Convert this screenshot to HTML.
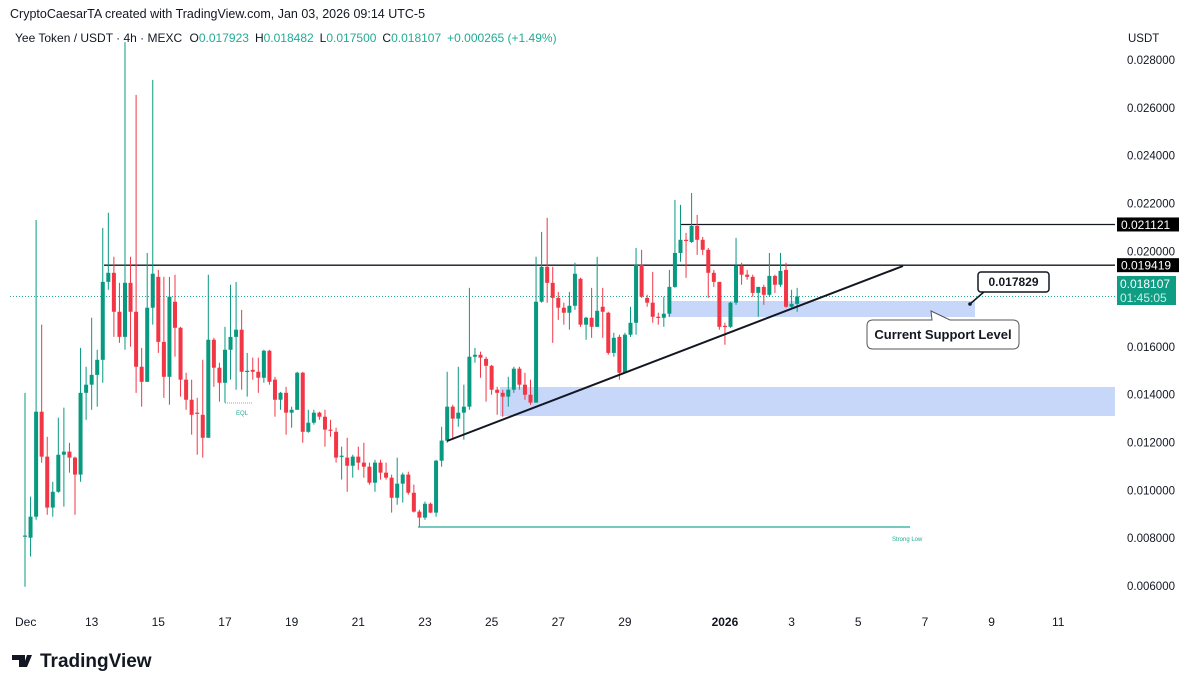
<!DOCTYPE html>
<html><head><meta charset="utf-8"><style>
html,body{margin:0;padding:0;background:#fff;}
body{width:1200px;height:687px;overflow:hidden;font-family:"Liberation Sans",sans-serif;}
svg text{font-family:"Liberation Sans",sans-serif;}
</style></head><body>
<svg id="chart" width="1200" height="687" viewBox="0 0 1200 687" xmlns="http://www.w3.org/2000/svg">
<text x="10" y="18" font-size="12.5" fill="#131722">CryptoCaesarTA created with TradingView.com, Jan 03, 2026 09:14 UTC-5</text>
<text x="15" y="42" font-size="12" fill="#131722">Yee Token / USDT · 4h · MEXC  <tspan dx="4">O</tspan><tspan fill="#22ab94">0.017923</tspan><tspan dx="6">H</tspan><tspan fill="#22ab94">0.018482</tspan><tspan dx="6">L</tspan><tspan fill="#22ab94">0.017500</tspan><tspan dx="6">C</tspan><tspan fill="#22ab94">0.018107</tspan><tspan dx="6" fill="#22ab94">+0.000265 (+1.49%)</tspan></text>
<text x="1128" y="42" font-size="11.5" fill="#131722">USDT</text>
<g id="yticks"></g>
<g id="xticks"></g>
<g id="zones"></g>
<g id="levels"></g>
<g id="candles"></g>
<g id="annot"></g>
<g>
<path d="M12 655h13v12h-6v-7h-7z M27 655h5l-5 12h-4z" fill="#131722"/>
<circle cx="29" cy="657" r="0" fill="#131722"/>
<text x="40" y="667" font-size="19" font-weight="bold" fill="#131722">TradingView</text>
</g>
</svg>
<script>
// values in milli-USDT (0.001 USDT)
const opens=[8.06,8.02,8.90,13.29,11.41,9.28,9.94,11.49,11.62,11.37,10.66,14.08,14.42,14.83,15.46,18.72,19.10,17.47,16.42,18.68,17.47,15.17,14.54,17.64,18.93,16.21,14.75,17.89,16.80,14.63,13.79,13.25,13.16,12.20,16.30,15.13,14.50,15.88,16.42,16.72,14.96,15.04,14.96,14.71,15.84,14.63,13.79,14.08,13.25,13.37,14.92,12.45,12.83,13.25,13.08,12.54,12.45,11.41,11.37,11.03,11.41,11.16,10.99,10.32,11.16,10.74,10.53,9.69,10.28,10.66,9.90,9.11,8.86,9.44,9.07,11.24,12.08,13.50,13.00,13.25,13.50,15.59,15.67,15.50,15.21,14.21,14.08,13.92,14.21,15.09,14.42,14.00,13.67,17.89,19.35,18.68,18.05,17.64,17.43,17.72,18.85,16.93,17.22,16.84,17.68,17.43,15.75,16.42,14.92,16.51,17.01,19.43,18.05,17.85,17.26,17.22,17.39,18.51,19.93,20.48,20.39,21.06,20.48,20.06,19.10,18.72,16.88,16.84,17.85,19.39,19.02,18.93,18.26,18.51,18.18,18.97,18.60,19.22,17.68,17.80];
const highs=[14.08,9.74,21.31,16.93,12.24,10.36,13.04,13.46,11.99,11.41,15.96,15.17,17.22,15.88,20.98,21.61,19.77,18.68,28.75,19.77,26.54,15.96,19.93,27.17,19.22,18.93,18.93,19.02,16.84,14.92,14.63,13.87,15.46,19.02,16.38,15.34,16.84,18.60,18.72,17.55,15.75,15.55,15.55,15.88,15.88,14.75,14.12,14.33,13.50,14.96,14.96,13.37,13.37,13.29,13.37,12.95,12.62,11.83,12.20,11.49,11.83,11.99,11.16,11.28,11.28,11.16,10.66,11.37,10.74,10.78,10.24,9.19,9.53,9.49,11.28,12.66,14.96,13.58,15.17,14.42,18.47,15.96,15.80,15.59,15.25,14.33,14.21,14.75,15.17,15.17,14.92,14.63,19.77,20.81,21.40,19.35,18.30,17.85,18.30,19.52,18.89,17.26,18.47,19.77,18.47,17.47,16.59,16.51,16.59,17.68,20.14,20.06,18.18,19.14,17.43,18.10,19.22,22.15,21.94,20.77,22.44,21.52,20.60,20.14,19.22,18.72,17.01,17.89,20.56,19.52,19.22,19.02,18.51,18.60,19.93,19.02,19.93,19.52,18.39,18.47];
const lows=[5.97,7.23,8.77,11.16,8.98,8.90,9.90,9.32,10.74,8.98,10.36,12.95,13.37,13.50,14.50,18.39,16.42,16.17,15.88,16.01,14.08,13.50,14.54,16.93,15.75,13.87,13.58,15.59,13.92,13.37,12.33,11.49,11.37,12.20,14.33,13.71,13.67,14.63,14.21,14.21,13.92,14.63,14.08,14.50,14.42,13.08,13.37,12.33,12.62,13.37,11.99,12.41,12.75,12.95,11.83,12.24,11.16,10.45,9.94,10.53,10.86,10.53,10.24,9.94,10.45,10.45,9.07,9.40,9.49,9.82,9.07,8.48,8.77,9.05,8.90,10.99,11.99,12.12,12.66,12.12,13.37,15.34,14.71,13.71,14.00,13.16,13.08,13.50,14.08,14.21,13.79,13.58,13.67,17.85,17.85,16.17,17.13,16.93,16.72,17.55,16.84,16.30,16.38,16.84,16.38,15.67,15.59,14.63,14.92,16.42,16.51,18.05,17.68,17.01,16.93,16.84,17.26,18.47,19.56,18.89,20.35,19.85,19.85,18.05,18.51,16.72,16.09,16.80,17.76,18.60,18.81,18.10,17.26,17.76,18.10,18.26,18.51,17.64,17.64,17.47];
const closes=[8.11,8.90,13.29,11.41,9.28,9.94,11.49,11.62,11.37,10.66,14.08,14.42,14.83,15.46,18.72,19.10,17.47,16.42,18.68,17.47,15.17,14.54,17.64,19.06,16.21,14.75,18.10,16.80,14.63,13.79,13.16,13.22,12.20,16.30,15.13,14.50,15.88,16.42,16.72,14.96,15.00,14.96,14.71,15.84,14.54,13.79,14.08,13.25,13.37,14.92,12.45,12.83,13.25,13.08,12.54,12.50,11.37,11.45,11.03,11.41,11.16,10.99,10.32,11.16,10.74,10.53,9.69,10.28,10.66,9.90,9.11,8.86,9.44,9.07,11.24,12.08,13.50,13.00,13.25,13.50,15.59,15.67,15.55,15.21,14.21,14.08,13.92,14.21,15.09,14.42,14.00,13.67,17.89,19.35,18.68,18.05,17.64,17.43,17.72,19.06,16.93,17.22,16.84,17.51,17.47,15.75,16.38,14.92,16.51,17.01,19.43,18.10,17.85,17.26,17.22,17.39,18.51,19.93,20.48,20.44,21.06,20.48,20.06,19.10,18.72,16.84,16.84,17.85,19.39,19.02,18.93,18.26,18.51,18.18,18.97,18.60,19.18,17.68,17.80,18.11];
const yTickValues=[0.028,0.026,0.024,0.022,0.020,0.016,0.014,0.012,0.010,0.008,0.006];
const xTickLabels=["Dec","13","15","17","19","21","23","25","27","29","2026","3","5","7","9","11"];
const xTickDays=[11,13,15,17,19,21,23,25,27,29,32,34,36,38,40,42];
const levelValues=[0.021121,0.019419];
const lastPrice=[0.018107];

const NS="http://www.w3.org/2000/svg";
function y(v){return 60+(0.028-v)*23909;}
function xi(i){return 25+i*5.555;}
function xd(d){return 25+(d-11)*33.33;}
function mk(tag,attrs,parent,txt){const e=document.createElementNS(NS,tag);for(const k in attrs)e.setAttribute(k,attrs[k]);if(txt!==undefined)e.textContent=txt;parent.appendChild(e);return e;}
const G=id=>document.getElementById(id);

yTickValues.forEach(v=>{const t=mk('text',{x:1175,y:y(v)+4,'font-size':11.5,fill:'#131722','text-anchor':'end'},G('yticks'),v.toFixed(6));

});
xTickLabels.forEach((l,i)=>{const t=mk('text',{x:xd(xTickDays[i]),y:626,'font-size':12,fill:'#131722','font-weight':l==='2026'?'bold':'normal','text-anchor':l==='Dec'?'start':'middle'},G('xticks'),l);
if(l==='Dec')t.setAttribute('x',15);

});

// zones
let z=mk('rect',{x:668,y:301,width:307,height:16,fill:'#c6d7fa'},G('zones'));


z=mk('rect',{x:500,y:387,width:615,height:29,fill:'#c6d7fa'},G('zones'));



// levels
let l=mk('line',{x1:680,x2:1115,y1:y(levelValues[0]),y2:y(levelValues[0]),stroke:'#131722','stroke-width':1.3},G('levels'));


l=mk('line',{x1:104,x2:1115,y1:y(levelValues[1]),y2:y(levelValues[1]),stroke:'#131722','stroke-width':1.3},G('levels'));


l=mk('line',{x1:10,x2:1115,y1:y(lastPrice[0]),y2:y(lastPrice[0]),stroke:'#22ab94','stroke-width':1,'stroke-dasharray':'1 2'},G('levels'));


l=mk('line',{x1:418,x2:910,y1:527,y2:527,stroke:'#22ab94','stroke-width':1.2},G('levels'));


let t=mk('text',{x:892,y:541,'font-size':6,fill:'#22ab94'},G('levels'),'Strong Low');


l=mk('line',{x1:225,x2:252,y1:403,y2:403,stroke:'#22ab94','stroke-width':0.8,'stroke-dasharray':'1 1'},G('levels'));


t=mk('text',{x:236,y:415,'font-size':6,fill:'#22ab94'},G('levels'),'EQL');



// candles
closes.forEach((c,i)=>{const o=opens[i],h=highs[i],lo=lows[i];const up=c>=o;const col=up?'#089981':'#f23645';const cx=xi(i);
const g=mk('g',{},G('candles'));


mk('line',{x1:cx,x2:cx,y1:y(h/1000),y2:y(lo/1000),stroke:col,'stroke-width':1},g);
const top=y(Math.max(o,c)/1000),bot=y(Math.min(o,c)/1000);
mk('rect',{x:cx-2,y:top,width:4,height:Math.max(1.2,bot-top),fill:col},g);});

// trendline
l=mk('line',{x1:447,y1:441,x2:903,y2:266,stroke:'#131722','stroke-width':2},G('annot'));



// axis price labels
function box(v,bg,name){const yy=y(v);const g=mk('g',{},G('annot'));


mk('rect',{x:1117,y:yy-7,width:62,height:14,fill:bg},g);
mk('text',{x:1121,y:yy+4.5,'font-size':12,fill:'#fff'},g,v.toFixed(6));}
box(levelValues[0],'#000','level-label-high');
box(levelValues[1],'#000','level-label');
let g=mk('g',{},G('annot'));


mk('rect',{x:1117,y:276,width:59,height:29,fill:'#0f9d84'},g);
mk('text',{x:1120,y:288,'font-size':12,fill:'#fff'},g,lastPrice[0].toFixed(6));
mk('text',{x:1120,y:302,'font-size':12,fill:'#c9f0e6'},g,'01:45:05');

// callouts
g=mk('g',{},G('annot'));


mk('path',{d:'M970 304 L985 291',stroke:'#131722','stroke-width':1.5},g);
mk('circle',{cx:970,cy:304,r:1.8,fill:'#131722'},g);
mk('rect',{x:978,y:272,width:71,height:20,rx:3,fill:'#fff',stroke:'#131722','stroke-width':1.5},g);
mk('text',{x:1013.5,y:286,'font-size':12,'font-weight':'bold','text-anchor':'middle',fill:'#131722'},g,'0.017829');
g=mk('g',{},G('annot'));


mk('path',{d:'M873 320 H932 L931 311 L950 320 H1013 Q1019 320 1019 326 V343 Q1019 349 1013 349 H873 Q867 349 867 343 V326 Q867 320 873 320 Z',fill:'#fff',stroke:'#555','stroke-width':1},g);
mk('text',{x:943,y:339,'font-size':13,'font-weight':'bold','text-anchor':'middle',fill:'#131722'},g,'Current Support Level');
</script>
</body></html>
